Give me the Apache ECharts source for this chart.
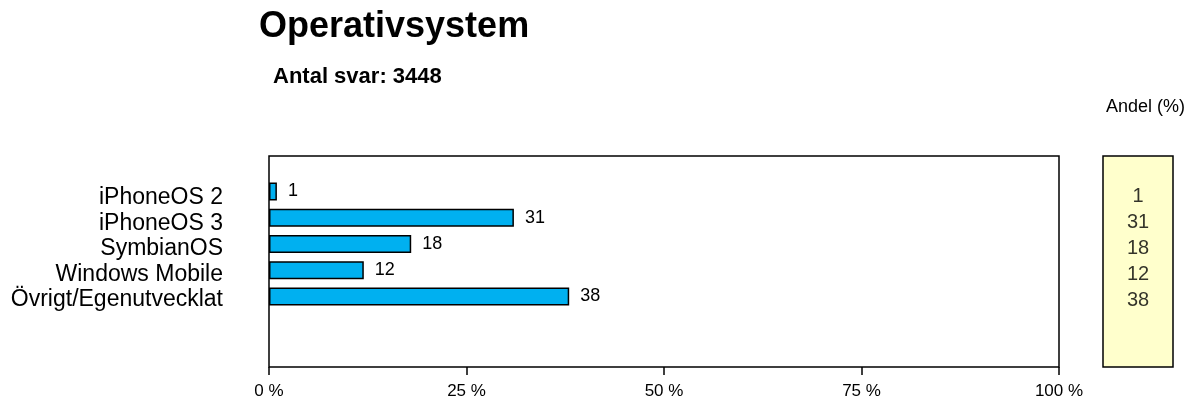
<!DOCTYPE html>
<html>
<head>
<meta charset="utf-8">
<script src="https://cdn.jsdelivr.net/npm/echarts@6/dist/echarts.min.js"></script>
<style>html,body{margin:0;padding:0;background:#fff}#c{width:1200px;height:403px}</style>
</head>
<body>
<div id="c"></div>
<script>
var categories = ['iPhoneOS 2', 'iPhoneOS 3', 'SymbianOS', 'Windows Mobile', 'Övrigt/Egenutvecklat'];
var shares = [1, 31, 18, 12, 38];
var xTicks = [0, 25, 50, 75, 100];
var titleText = 'Operativsystem';
var subtitleText = 'Antal svar: 3448';
var sideHeader = 'Andel (%)';

var F = 'Liberation Sans, Arial, sans-serif';
var chart = echarts.init(document.getElementById('c'), null, {renderer: 'canvas'});
chart.setOption({
  animation: false,
  backgroundColor: '#fff',
  title: [
    {text: titleText, left: 254, top: 4, textStyle: {fontFamily: F, fontSize: 36, fontWeight: 'bold', color: '#000'}},
    {text: subtitleText, left: 268, top: 61, textStyle: {fontFamily: F, fontSize: 22, fontWeight: 'bold', color: '#000'}},
    {text: sideHeader, left: 1101, top: 93, textStyle: {fontFamily: F, fontSize: 18, fontWeight: 'normal', color: '#000'}}
  ],
  grid: [
    {left: 269, top: 156, width: 790, height: 211, show: true, borderColor: '#000', borderWidth: 1.5, backgroundColor: '#fff'},
    {left: 269, top: 178.4, width: 790, height: 131.25},
    {left: 1103, top: 156, width: 70, height: 211, show: true, borderColor: '#000', borderWidth: 1.5, backgroundColor: '#ffffcc'},
    {left: 1103, top: 183.5, width: 70, height: 129.5},
    {left: 269, top: 185.25, width: 790, height: 127.5}
  ],
  xAxis: [
    {gridIndex: 0, type: 'value', min: xTicks[0], max: xTicks[xTicks.length - 1], interval: 25,
      axisLine: {show: false}, splitLine: {show: false},
      axisTick: {show: true, length: 8, lineStyle: {color: '#000', width: 1.5}},
      axisLabel: {margin: 16, formatter: '{value} %', fontFamily: F, fontSize: 17, color: '#000'}},
    {gridIndex: 1, type: 'value', min: 0, max: 100, show: false},
    {gridIndex: 2, type: 'value', show: false, min: 0, max: 1},
    {gridIndex: 3, type: 'value', show: false, min: -1, max: 1},
    {gridIndex: 4, type: 'value', show: false, min: 0, max: 1}
  ],
  yAxis: [
    {gridIndex: 0, type: 'value', show: false},
    {gridIndex: 1, type: 'category', data: categories, inverse: true, show: false},
    {gridIndex: 2, type: 'value', show: false},
    {gridIndex: 3, type: 'category', data: categories, inverse: true, show: false},
    {gridIndex: 4, type: 'category', data: categories, inverse: true,
      axisLine: {show: false}, axisTick: {show: false},
      axisLabel: {interval: 0, margin: 46, fontFamily: F, fontSize: 23, color: '#000'}}
  ],
  series: [
    {type: 'bar', xAxisIndex: 1, yAxisIndex: 1, data: shares, barWidth: 18,
      itemStyle: {color: '#00B0F0', borderColor: '#000', borderWidth: 1.5},
      label: {show: true, position: 'right', distance: 11, fontFamily: F, fontSize: 18, color: '#000'}},
    {type: 'scatter', xAxisIndex: 3, yAxisIndex: 3, symbolSize: 0,
      data: shares.map(function (v, i) { return [0, i, v]; }),
      label: {show: true, position: 'inside', formatter: function (p) { return p.value[2]; },
        fontFamily: F, fontSize: 20, color: '#000', textBorderWidth: 0}}
  ]
});
</script>
</body>
</html>
